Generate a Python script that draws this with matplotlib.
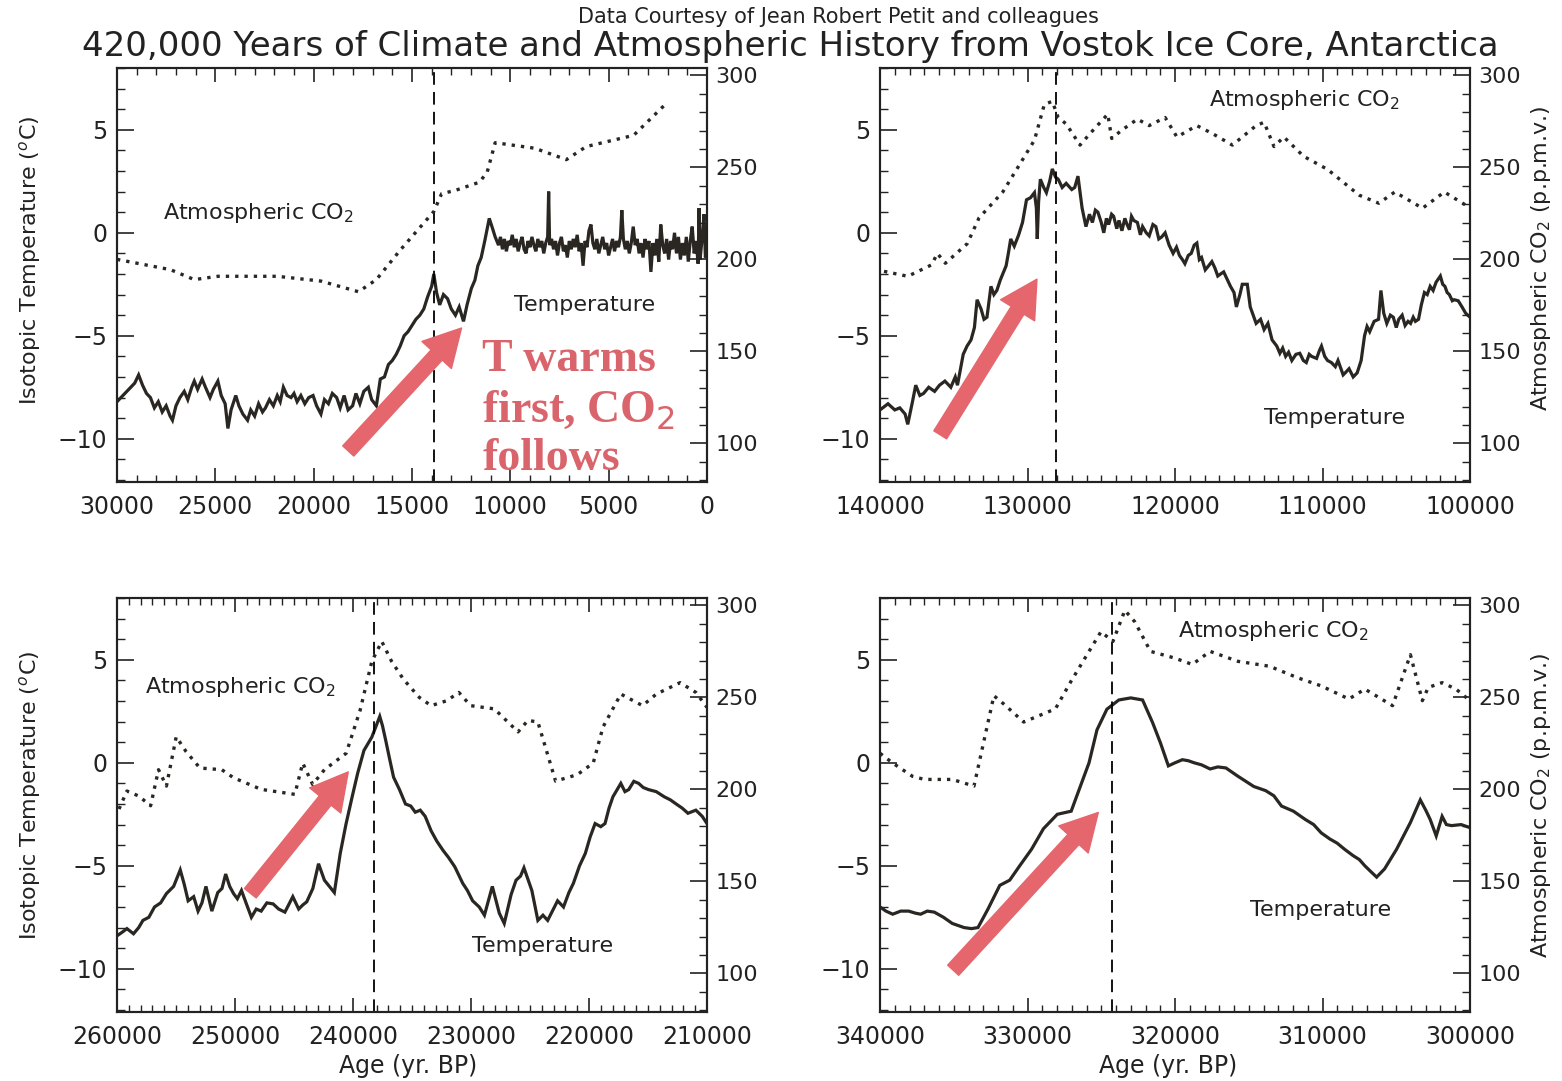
import matplotlib
matplotlib.use("Agg")
import matplotlib.pyplot as plt
from matplotlib.ticker import MultipleLocator, StrMethodFormatter

# Vostok panels: ages (yr BP), isotopic temperature (C) and CO2 (ppmv)
# --- panel 1: 30000 - 0
age1 = [30000, 29700, 29400, 29100, 28900, 28700, 28500, 28300, 28100, 27900,
        27700, 27500, 27300, 27180, 27000, 26800, 26580, 26400, 26200, 26070,
        25900, 25670, 25500, 25270, 25100, 24870, 24700, 24500, 24360, 24200,
        23960, 23800, 23600, 23360, 23200, 23000, 22800, 22600, 22450, 22250,
        22050, 21850, 21700, 21540, 21350, 21150, 21000, 20840, 20650, 20450,
        20250, 20030, 19850, 19630, 19450, 19250, 19050, 18830, 18650, 18450,
        18250, 18020, 17850, 17650, 17450, 17220, 17050, 16810, 16610, 16400,
        16200, 16000, 15800, 15600, 15400, 15200, 15000, 14800, 14600, 14400,
        14200, 14000, 13890, 13750, 13590, 13400, 13190, 13000, 12790, 12600,
        12380, 12200, 11980, 11800, 11650, 11480, 11300, 11070, 10900, 10770,
        10600, 10500, 10400, 10300, 10200, 10100, 10000, 9900, 9800, 9700,
        9600, 9500, 9400, 9300, 9200, 9100, 9000, 8900, 8800, 8700,
        8600, 8500, 8400, 8300, 8200, 8100, 8050, 8000, 7900, 7800,
        7700, 7600, 7500, 7400, 7300, 7200, 7100, 7000, 6900, 6800,
        6700, 6600, 6500, 6400, 6300, 6200, 6100, 6000, 5900, 5800,
        5700, 5600, 5500, 5400, 5300, 5200, 5100, 5000, 4900, 4800,
        4700, 4600, 4500, 4400, 4330, 4250, 4150, 4050, 3950, 3850,
        3750, 3650, 3550, 3450, 3350, 3250, 3150, 3050, 2950, 2850,
        2750, 2650, 2550, 2450, 2350, 2250, 2150, 2050, 1950, 1850,
        1750, 1650, 1550, 1450, 1350, 1250, 1150, 1050, 950, 850,
        750, 650, 550, 450, 400, 350, 250, 150, 80, 0]
temp1 = [-8.2, -7.9, -7.6, -7.3, -6.9, -7.4, -7.8, -8.0, -8.5, -8.2,
         -8.7, -8.4, -8.9, -9.1, -8.4, -8.0, -7.7, -8.1, -7.5, -7.2,
         -7.6, -7.1, -7.5, -8.0, -7.6, -7.2, -7.9, -8.3, -9.5, -8.6,
         -7.9, -8.4, -8.8, -9.1, -8.6, -8.9, -8.3, -8.7, -8.5, -8.1,
         -8.4, -7.9, -8.2, -7.5, -7.9, -8.0, -7.8, -8.2, -7.9, -8.3,
         -8.0, -7.9, -8.4, -8.8, -8.1, -8.3, -7.8, -8.0, -8.5, -7.9,
         -8.6, -8.4, -7.8, -8.3, -7.7, -7.5, -8.1, -8.4, -7.1, -7.0,
         -6.4, -6.2, -5.9, -5.5, -5.0, -4.8, -4.5, -4.2, -4.0, -3.7,
         -3.1, -2.6, -2.0, -2.9, -3.5, -3.0, -3.2, -3.7, -4.0, -3.6,
         -4.3, -3.5, -2.7, -2.3, -1.6, -1.2, -0.4, 0.7, 0.2, -0.2,
         -0.6, -0.2, -0.8, -0.3, -0.9, -0.4, -0.6, -0.1, -0.7, -0.3,
         -0.9, -0.5, -0.2, -0.8, -1.0, -0.4, -0.7, -0.2, -0.6, -0.9,
         -0.3, -0.7, -0.4, -1.0, -0.5, -0.2, 2.0, -0.6, -0.3, -0.8,
         -0.4, -1.1, -0.5, -0.2, -0.9, -0.6, -1.2, -0.4, -0.8, -0.3,
         -0.7, -0.1, -0.9, -0.5, -1.6, -0.4, -0.7, 0.1, 0.4, -0.5,
         -0.8, -0.3, -1.0, -0.6, -0.2, -0.8, -0.5, -1.1, -0.7, -0.3,
         -0.9, -0.4, -0.7, -0.2, 1.1, -0.3, -0.8, -0.4, -1.0, -0.5,
         0.3, -0.6, -0.3, -1.0, -0.5, -1.2, -0.3, -0.8, -0.4, -1.9,
         -0.5, -1.1, -0.3, -1.4, 0.4, -0.6, -1.0, -0.3, -1.3, -0.4,
         -0.8, 0.0, -1.0, -0.2, -1.3, -0.5, -1.1, -0.2, -1.4, -0.4,
         0.3, -1.0, -0.4, -1.5, 1.2, -1.3, -0.3, 0.9, -1.2, -0.6]
co2_age1 = [30000, 27280, 26070, 24870, 21850, 19630, 17720, 16810, 15600,
            13890, 13490, 12790, 11580, 11180, 10770, 8760, 7150, 6140,
            3730, 2120]
co2_1 = [200, 194.4, 189, 190.8, 190.8, 188.2, 182.4, 189, 205,
         226, 235.7, 237.5, 241.9, 247.2, 263.4, 260.4, 254.2, 261.3,
         267.4, 284.2]

# --- panel 2: 140000 - 100000
age2 = [140000, 139460, 139000, 138660, 138300, 138120, 137800, 137580, 137300, 137050,
        136700, 136300, 135970, 135600, 135200, 134900, 134750, 134360, 134100, 133830,
        133600, 133420, 133150, 132950, 132750, 132480, 132280, 132080, 131850, 131680,
        131450, 131300, 131140, 130900, 130600, 130340, 130070, 129800, 129530, 129400,
        129340, 129250, 129130, 128900, 128720, 128500, 128320, 128100, 127920, 127650,
        127380, 127000, 126800, 126580, 126300, 126040, 125800, 125600, 125400, 125230,
        125000, 124830, 124650, 124500, 124300, 124160, 123950, 123800, 123600, 123400,
        123250, 123090, 122950, 122800, 122550, 122350, 122200, 121950, 121750, 121500,
        121300, 121100, 120900, 120670, 120400, 120130, 119900, 119700, 119500, 119330,
        119100, 118900, 118700, 118520, 118350, 118200, 117950, 117720, 117500, 117300,
        117100, 116910, 116700, 116500, 116240, 116000, 115840, 115600, 115440, 115100,
        114900, 114700, 114500, 114200, 113960, 113700, 113420, 113100, 112890, 112700,
        112500, 112300, 112080, 111800, 111540, 111300, 111100, 110900, 110740, 110400,
        110200, 110070, 109850, 109660, 109400, 109130, 108950, 108800, 108600, 108460,
        108200, 107920, 107650, 107380, 107150, 106980, 106800, 106500, 106200, 106040,
        105850, 105640, 105400, 105200, 105000, 104830, 104600, 104400, 104200, 104030,
        103850, 103700, 103490, 103300, 103090, 102900, 102700, 102500, 102300, 102010,
        101850, 101700, 101550, 101400, 101200, 101070, 100800, 100540, 100300, 100000]
temp2 = [-8.6, -8.3, -8.6, -8.5, -8.8, -9.3, -8.2, -7.4, -7.9, -7.8,
         -7.5, -7.7, -7.4, -7.2, -7.5, -7.0, -7.4, -5.9, -5.5, -5.2,
         -4.6, -3.25, -3.7, -4.2, -4.1, -2.6, -3.0, -2.8, -2.3, -2.0,
         -1.6, -1.0, -0.3, -0.65, -0.1, 0.5, 1.6, 1.7, 1.95, 1.2,
         -0.3, 1.5, 2.6, 2.2, 1.95, 2.5, 3.1, 2.7, 2.6, 2.2,
         2.4, 2.1, 2.2, 2.75, 1.2, 0.3, 0.9, 0.5, 1.1, 1.0,
         0.5, 0.0, 0.7, 0.4, 0.9, 0.8, 0.2, 0.6, 0.1, 0.7,
         0.4, 0.15, 0.8, 0.6, 0.5, -0.1, 0.3, 0.0, -0.15, 0.4,
         0.3, -0.3, -0.2, 0.0, -0.6, -1.0, -0.7, -1.1, -1.3, -1.5,
         -1.1, -1.0, -0.6, -0.5, -1.3, -1.2, -1.8, -1.6, -1.4, -1.7,
         -2.1, -2.0, -1.9, -2.2, -2.6, -2.9, -3.6, -3.0, -2.5, -2.5,
         -3.6, -4.0, -4.4, -4.2, -4.7, -4.4, -5.2, -5.5, -5.85, -5.6,
         -6.0, -5.8, -6.2, -5.9, -5.85, -6.2, -6.3, -5.9, -6.0, -6.1,
         -5.7, -5.5, -6.0, -6.2, -6.3, -6.5, -6.2, -6.5, -6.9, -6.8,
         -6.6, -7.0, -6.8, -6.2, -5.0, -4.55, -4.8, -4.3, -4.2, -2.8,
         -3.9, -4.4, -4.0, -4.1, -4.6, -4.2, -4.0, -4.5, -4.3, -4.4,
         -4.1, -4.3, -4.2, -3.5, -2.9, -3.0, -2.6, -2.8, -2.4, -2.1,
         -2.5, -2.6, -2.9, -3.0, -3.3, -3.25, -3.3, -3.6, -3.9, -4.1]
co2_age2 = [139730, 138120, 136510, 136110, 135570, 134090, 133290, 131680,
            130600, 129530, 128860, 128320, 127920, 127380, 126440, 125770,
            124560, 124290, 123630, 122550, 121750, 120670, 119870, 118520,
            117450, 116110, 114500, 113960, 113290, 112620, 111280, 109660,
            107520, 106180, 105100, 103220, 101740, 100130]
co2_2 = [193.5, 190.8, 197, 203.2, 197.9, 208.5, 222.5, 236.6,
         250.7, 264.8, 284.2, 285.9, 277.1, 273.6, 262.1, 268.3,
         278.9, 265.7, 270.1, 276.2, 272.7, 277.1, 266.5, 272.7,
         268.3, 262.1, 272.7, 274.5, 261.3, 266.5, 256, 248.9,
         234.9, 230.5, 236.6, 227.8, 236.6, 228.7]

# --- panel 3: 260000 - 210000
age3 = [260000, 259500, 259160, 258600, 258160, 257800, 257300, 256820, 256300, 255810,
        255200, 254640, 254300, 253970, 253500, 253130, 252800, 252460, 251960, 251460,
        251100, 250790, 250450, 250120, 249800, 249450, 249000, 248610, 248200, 247780,
        247300, 246770, 246300, 245770, 245100, 244600, 244250, 243920, 243400, 242920,
        242420, 241580, 241080, 240600, 240070, 239600, 239070, 238400, 237730, 237500,
        237230, 236900, 236560, 236060, 235550, 235100, 234720, 234300, 233880, 233380,
        232900, 232370, 231900, 231370, 230700, 230300, 229860, 229300, 228860, 228190,
        227600, 227180, 226600, 226180, 225800, 225510, 224840, 224330, 223900, 223500,
        222660, 222160, 221700, 221320, 220800, 220310, 219900, 219480, 219000, 218640,
        218300, 217970, 217300, 216950, 216630, 216200, 215790, 215400, 214960, 214300,
        213620, 213100, 212610, 212100, 211610, 210940, 210400, 210000]
temp3 = [-8.4, -8.2, -8.05, -8.3, -8.0, -7.65, -7.5, -7.0, -6.8, -6.35,
         -6.0, -5.2, -5.9, -6.7, -6.5, -7.2, -6.8, -6.0, -7.2, -6.3,
         -6.1, -5.4, -6.0, -6.35, -6.6, -6.2, -6.9, -7.5, -7.1, -7.2,
         -6.8, -6.85, -7.1, -7.25, -6.5, -7.1, -6.9, -6.75, -6.1, -4.9,
         -5.7, -6.3, -4.4, -3.0, -1.65, -0.5, 0.6, 1.25, 2.25, 1.8,
         1.1, 0.2, -0.7, -1.3, -2.0, -2.1, -2.4, -2.3, -2.6, -3.3,
         -3.8, -4.25, -4.6, -5.05, -5.85, -6.2, -6.7, -7.0, -7.4, -6.0,
         -7.3, -7.8, -6.4, -5.7, -5.5, -5.1, -6.2, -7.65, -7.4, -7.65,
         -6.7, -7.0, -6.3, -5.85, -5.0, -4.4, -3.6, -2.95, -3.1, -2.95,
         -2.2, -1.65, -1.0, -1.4, -1.3, -0.9, -1.0, -1.2, -1.3, -1.4,
         -1.65, -1.8, -2.0, -2.2, -2.45, -2.3, -2.6, -2.95]
co2_age3 = [259830, 259160, 258160, 257150, 256480, 255810, 254980, 254140,
            252970, 251120, 250120, 247780, 244930, 244260, 243420, 242420,
            240580, 239400, 238400, 237560, 236730, 235720, 234380, 233380,
            232040, 231030, 230030, 228020, 226010, 225170, 224330, 222830,
            220990, 219640, 218810, 217300, 215460, 214290, 212280, 210940, 210000]
co2_3 = [189.3, 199.1, 196.4, 191.1, 210.7, 201.8, 228.6, 220.5,
         211.6, 210.7, 206.3, 200, 197.3, 214.3, 202.7, 210.7,
         219.6, 242.9, 269.6, 280.4, 269.6, 259.8, 250, 245.5,
         248.2, 252.7, 245.5, 243.75, 231.25, 237.5, 236.6, 204.5,
         208, 214.3, 233.9, 251.8, 245.5, 251.8, 258, 252.7, 244.6]

# --- panel 4: 340000 - 300000
age4 = [340000, 339600, 339140, 338600, 338060, 337600, 337250, 336800, 336320, 335700,
        335100, 334700, 334300, 333800, 333360, 332680, 331880, 331210, 330530, 329730,
        328920, 327980, 327040, 326500, 325830, 325290, 324620, 323810, 323000, 322200,
        321520, 320980, 320450, 320000, 319500, 319100, 318700, 318200, 317620, 317100,
        316550, 315740, 315200, 314660, 313860, 313300, 312780, 311970, 311170, 310600,
        310090, 309500, 309010, 308500, 307940, 307500, 307130, 306700, 306330, 305790,
        304980, 304040, 303370, 303000, 302700, 302290, 301890, 301600, 301250, 300600, 300000]
temp4 = [-7.0, -7.2, -7.35, -7.2, -7.2, -7.3, -7.35, -7.2, -7.25, -7.5,
         -7.8, -7.9, -8.0, -8.05, -8.0, -7.1, -5.95, -5.7, -5.0, -4.2,
         -3.2, -2.5, -2.35, -1.3, 0.0, 1.6, 2.6, 3.05, 3.15, 3.05,
         1.95, 0.95, -0.15, 0.0, 0.15, 0.1, 0.0, -0.1, -0.3, -0.2,
         -0.25, -0.65, -0.9, -1.15, -1.35, -1.6, -2.1, -2.35, -2.75, -3.0,
         -3.4, -3.7, -3.9, -4.2, -4.5, -4.7, -5.0, -5.3, -5.55, -5.15,
         -4.2, -2.9, -1.8, -2.3, -2.75, -3.55, -2.6, -3.0, -3.05, -3.0, -3.15]
co2_age4 = [340000, 339140, 337800, 336990, 335100, 333630, 332280, 331610,
            330260, 329450, 328110, 327040, 325830, 325020, 324210, 323400,
            322730, 321660, 320040, 318830, 317620, 315740, 313590, 311700,
            310090, 308210, 307130, 305250, 304040, 303230, 302830, 301890,
            300950, 300000]
co2_4 = [219.6, 214.3, 207.1, 205.4, 205.4, 201.8, 250.9, 246.4,
         236.6, 239.3, 243.75, 258.9, 275, 285.7, 280.4, 297.3,
         291.1, 275, 271.4, 267.9, 275, 269.6, 266.9, 260.7,
         256.25, 249.1, 254.5, 245.5, 273.2, 248.2, 255.4, 258,
         254.5, 248.2]

xlims = [(30000, 0), (140000, 100000), (260000, 210000), (340000, 300000)]
xmajor = [5000, 10000, 10000, 10000]
lead_lines = [13900, 128100, 238200, 324300]

INK = "#222222"
RED = "#e5666c"

fig = plt.figure(figsize=(15.62, 10.81), dpi=100)
positions = [[0.0749, 0.5541, 0.3777, 0.383], [0.5634, 0.5541, 0.3777, 0.383],
             [0.0749, 0.0638, 0.3777, 0.383], [0.5634, 0.0638, 0.3777, 0.383]]
panels = [(age1, temp1, co2_age1, co2_1), (age2, temp2, co2_age2, co2_2),
          (age3, temp3, co2_age3, co2_3), (age4, temp4, co2_age4, co2_4)]

co2_txt = [(0.239, 0.65), (0.72, 0.923), (0.2085, 0.785), (0.666, 0.92)]
temp_txt = [(0.793, 0.4275), (0.771, 0.155), (0.722, 0.159), (0.746, 0.246)]
arrows = [((0.392, 0.075), (0.584, 0.372)), ((0.102, 0.114), (0.266, 0.49)),
          ((0.226, 0.287), (0.392, 0.58)), ((0.124, 0.101), (0.37, 0.482))]

for i, (pos, (ta, tv, ca, cv)) in enumerate(zip(positions, panels)):
    ax = fig.add_axes(pos)
    ax2 = ax.twinx()
    ax.plot(ta, tv, color="#2a2622", lw=2.3, solid_joinstyle="miter")
    ax2.plot(ca, cv, color="#2a2622", lw=2.4, linestyle=(0, (1, 1.8)),
             dash_capstyle="butt")
    ax.axvline(lead_lines[i], color="black", lw=1.3, linestyle=(0, (7, 4)))

    ax.set_xlim(*xlims[i])
    ax.set_ylim(-12.1, 8.0)
    ax2.set_ylim(79, 304)

    ax.xaxis.set_major_locator(MultipleLocator(xmajor[i]))
    ax.xaxis.set_minor_locator(MultipleLocator(1000))
    ax.xaxis.set_major_formatter(StrMethodFormatter("{x:.0f}"))
    ax.yaxis.set_major_locator(MultipleLocator(5))
    ax.yaxis.set_minor_locator(MultipleLocator(1))
    ax2.yaxis.set_major_locator(MultipleLocator(50))
    ax2.yaxis.set_minor_locator(MultipleLocator(10))

    ax.tick_params(axis="x", which="both", direction="in", top=True, bottom=True,
                   color=INK, labelcolor=INK, labelsize=17, pad=9)
    ax.tick_params(axis="x", which="major", length=10, width=1.2)
    ax.tick_params(axis="x", which="minor", length=5, width=1.0)
    ax.tick_params(axis="y", which="both", direction="in", color=INK,
                   labelcolor=INK, labelsize=17, pad=7)
    ax.tick_params(axis="y", which="major", length=12, width=1.2)
    ax.tick_params(axis="y", which="minor", length=6, width=1.0)
    ax2.tick_params(axis="y", which="both", direction="in", color=INK,
                    labelcolor=INK, labelsize=16, pad=6)
    ax2.tick_params(axis="y", which="major", length=12, width=1.2)
    ax2.tick_params(axis="y", which="minor", length=6, width=1.0)
    for a in (ax, ax2):
        for s in a.spines.values():
            s.set_color(INK)
            s.set_linewidth(1.5)

    ax2.text(co2_txt[i][0], co2_txt[i][1], "Atmospheric CO$_2$", transform=ax2.transAxes,
             ha="center", va="center", fontsize=16, color=INK)
    ax2.text(temp_txt[i][0], temp_txt[i][1], "Temperature", transform=ax2.transAxes,
             ha="center", va="center", fontsize=16, color=INK)
    (x0, y0), (x1, y1) = arrows[i]
    ax2.annotate("", xy=(x1, y1), xytext=(x0, y0), xycoords="axes fraction",
                 textcoords="axes fraction",
                 arrowprops=dict(arrowstyle="simple,head_length=1.1,head_width=1.2,tail_width=0.45",
                                 color=RED, mutation_scale=24, shrinkA=0, shrinkB=0))
    if i == 0:
        ax2.text(0.619, 0.345, "T warms\nfirst, CO$_2$\nfollows", transform=ax2.transAxes,
                 ha="left", va="top", fontsize=33, fontweight="bold",
                 family="Liberation Serif", color="#d9646c", linespacing=1.22,
                 clip_on=True)

fig.text(0.5365, 0.9843, "Data Courtesy of Jean Robert Petit and colleagues",
         ha="center", va="center", fontsize=15, color=INK)
fig.text(0.5058, 0.9566,
         "420,000 Years of Climate and Atmospheric History from Vostok Ice Core, Antarctica",
         ha="center", va="center", fontsize=24.5, color=INK)
for y in (0.7595, 0.2646):
    fig.text(0.0192, y, "Isotopic Temperature ($^o$C)", rotation=90,
             ha="center", va="center", fontsize=16, color=INK)
for y in (0.761, 0.2553):
    fig.text(0.9865, y, "Atmospheric CO$_2$ (p.p.m.v.)", rotation=90,
             ha="center", va="center", fontsize=16, color=INK)
for x in (0.2612, 0.7478):
    fig.text(x, 0.0139, "Age (yr. BP)", ha="center", va="center", fontsize=17, color=INK)

fig.savefig("out.png", dpi=100)
